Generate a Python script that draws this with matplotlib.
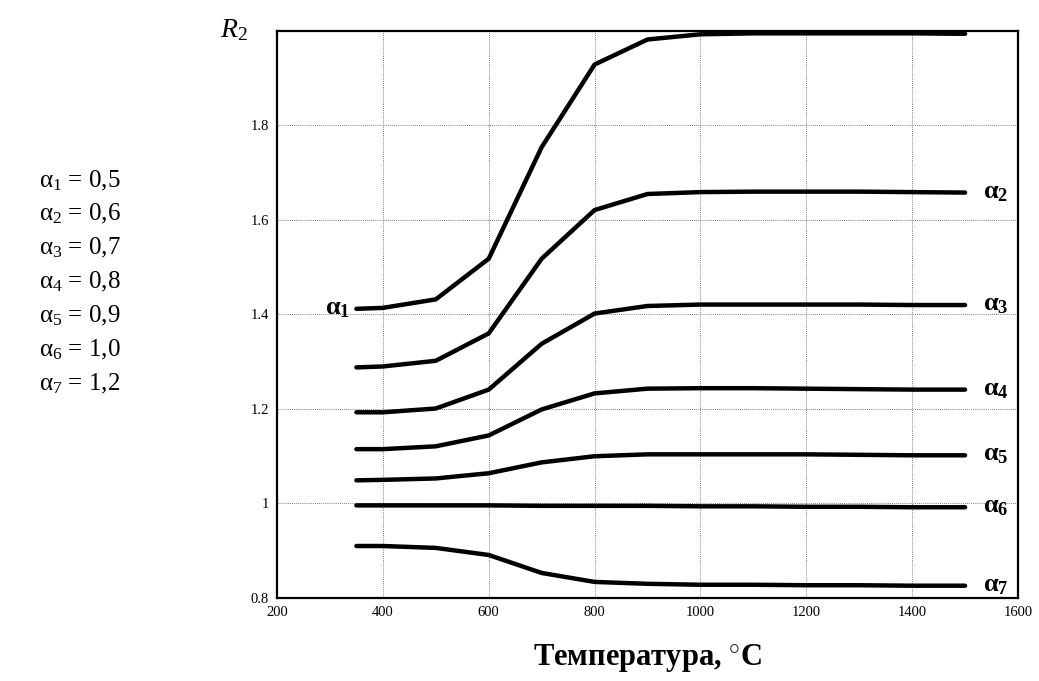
import matplotlib
matplotlib.use('Agg')
import matplotlib.pyplot as plt

plt.rcParams['font.family'] = ['Liberation Serif', 'DejaVu Serif']
plt.rcParams['mathtext.fontset'] = 'custom'
plt.rcParams['mathtext.rm'] = 'Liberation Serif'
plt.rcParams['mathtext.it'] = 'Liberation Serif:italic'
plt.rcParams['mathtext.bf'] = 'Liberation Serif:bold'

# температура, °C
temps = [350, 400, 500, 600, 700, 800, 900, 1000, 1100, 1200, 1300, 1400, 1500]

# R2 для разных alpha
r_a1 = [1.412, 1.414, 1.432, 1.518, 1.754, 1.929, 1.982, 1.993, 1.995, 1.995, 1.995, 1.995, 1.994]
r_a2 = [1.288, 1.290, 1.302, 1.360, 1.518, 1.621, 1.655, 1.659, 1.660, 1.660, 1.660, 1.659, 1.658]
r_a3 = [1.193, 1.193, 1.201, 1.241, 1.338, 1.402, 1.418, 1.421, 1.421, 1.421, 1.421, 1.420, 1.420]
r_a4 = [1.115, 1.115, 1.121, 1.144, 1.199, 1.233, 1.243, 1.244, 1.244, 1.243, 1.242, 1.241, 1.241]
r_a5 = [1.049, 1.050, 1.053, 1.064, 1.087, 1.100, 1.104, 1.104, 1.104, 1.104, 1.103, 1.102, 1.102]
r_a6 = [0.996, 0.996, 0.996, 0.996, 0.995, 0.995, 0.995, 0.994, 0.994, 0.993, 0.993, 0.992, 0.992]
r_a7 = [0.910, 0.910, 0.906, 0.891, 0.853, 0.834, 0.830, 0.828, 0.828, 0.827, 0.827, 0.826, 0.826]

curves = [r_a1, r_a2, r_a3, r_a4, r_a5, r_a6, r_a7]
alphas = ['0,5', '0,6', '0,7', '0,8', '0,9', '1,0', '1,2']

x_ticks = [200, 400, 600, 800, 1000, 1200, 1400, 1600]
y_ticks = [0.8, 1.0, 1.2, 1.4, 1.6, 1.8]
y_labels = ['0.8', '1', '1.2', '1.4', '1.6', '1.8']

fig = plt.figure(figsize=(10.39, 6.81), dpi=100)
ax = fig.add_axes([0.2666, 0.1219, 0.7132, 0.8326])

for i, r in enumerate(curves):
    ax.plot(temps, r, color='black', lw=3.2, solid_capstyle='round')
    lab = r'$\mathbf{α}_{\mathbf{%d}}$' % (i + 1)
    if i == 0:
        ax.text(temps[0] - 12, r[0], lab, ha='right', va='center', fontsize=19)
    else:
        ax.text(temps[-1] + 33, r[-1], lab, ha='left', va='center', fontsize=19)

ax.set_xlim(200, 1600)
ax.set_ylim(0.8, 2.0)
ax.set_xticks(x_ticks)
ax.set_yticks(y_ticks)
ax.set_yticklabels(y_labels)
ax.tick_params(length=0, labelsize=10.5, pad=6)
ax.grid(True, color='#555555', lw=0.6, ls=(0, (1, 1.5)))
for s in ax.spines.values():
    s.set_linewidth(1.6)

ax.set_xlabel('Температура, $^{\circ}$C', fontsize=22, fontweight='bold', labelpad=16)

fig.text(0.212, 0.955, '$R_2$', fontsize=20, ha='left', va='center')

for i, a in enumerate(alphas):
    fig.text(0.038, 0.735 - i * 0.0497, r'$\mathrm{α}_{%d}$ = %s' % (i + 1, a),
             fontsize=18, ha='left', va='center')

fig.savefig('out.png', dpi=100)
